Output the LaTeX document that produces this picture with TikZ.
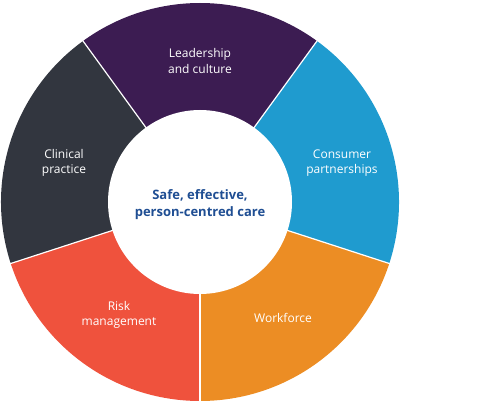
\documentclass[tikz,border=0pt]{standalone}
\usepackage{fontspec}
\setmainfont{Open Sans}
\definecolor{cpurple}{HTML}{3C1C52}
\definecolor{cblue}{HTML}{1F9BCF}
\definecolor{corange}{HTML}{EC8D24}
\definecolor{cred}{HTML}{EF523D}
\definecolor{cdark}{HTML}{32363F}
\definecolor{ctext}{HTML}{1F4E93}
\begin{document}
\begin{tikzpicture}[x=1pt,y=1pt,
  seglabel/.style={text=white,font=\fontsize{12}{15.5}\selectfont,align=center,inner sep=0pt},
  centrelabel/.style={text=ctext,font=\bfseries\fontsize{13}{17}\selectfont,align=center,inner sep=0pt},
  sep/.style={draw=white,line width=1.2pt}]
\useasboundingbox (0,0) rectangle (500,407);
\coordinate (c) at (200,205);
\def\Ro{199}
\def\Ri{92}
% segments
\foreach \a/\col in {54/cpurple,-18/cblue,-90/corange,198/cred,126/cdark}{
  \fill[\col] (c) -- ++(\a:\Ro) arc[start angle=\a, delta angle=72, radius=\Ro] -- cycle;
}
\foreach \a in {54,-18,-90,198,126}{
  \draw[sep] (c) -- ++(\a:\Ro+1);
}
\fill[white] (c) circle[radius=\Ri];
% labels
\node[seglabel] (lead) at (200,346) {Leadership\\and culture};
\node[seglabel] (cons) at (342,244) {Consumer\\partnerships};
\node[seglabel] (work) at (283,89) {Workforce};
\node[seglabel] (risk) at (119,92) {Risk\\management};
\node[seglabel] (clin) at (64,244) {Clinical\\practice};
\node[centrelabel] (core) at (200,202) {Safe, effective,\\person-centred care};
\end{tikzpicture}
\end{document}
